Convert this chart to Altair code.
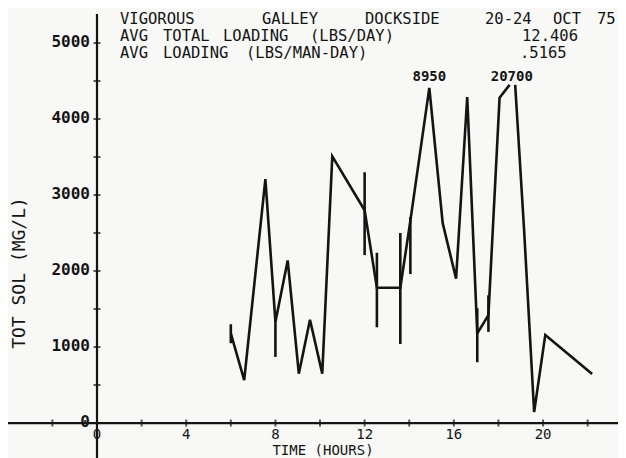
import altair as alt
import pandas as pd

# ---------------- data ----------------
# main trace, first piece (hours, mg/L)
seg1_t = [6.0, 6.6, 7.55, 8.0, 8.55, 9.05, 9.55, 10.1, 10.55, 12.0, 12.55, 13.6,
          14.05, 14.9, 15.5, 16.1, 16.6, 17.05, 17.55, 18.05, 18.5]
seg1_v = [1180, 565, 3210, 1330, 2140, 650, 1360, 650, 3510, 2800, 1780, 1780,
          2660, 4410, 2630, 1900, 4290, 1180, 1420, 4280, 4450]
# main trace, second piece
seg2_t = [18.75, 19.15, 19.6, 20.1, 22.2]
seg2_v = [4450, 2540, 145, 1160, 645]

# vertical range bars
bar_t = [6.0, 8.0, 12.0, 12.55, 13.6, 14.05, 17.05, 17.55]
bar_lo = [1050, 870, 2210, 1260, 1040, 1960, 800, 1200]
bar_hi = [1300, 1330, 3300, 2240, 2500, 2710, 1510, 1680]

# off-scale peak labels
peak_t = [14.9, 18.6]
peak_txt = ["8950", "20700"]

# axis ticks / labels
x_ticks = [-2, 2, 4, 6, 8, 10, 12, 14, 16, 18, 20, 22]
x_labels = [0, 4, 8, 12, 16, 20]
y_ticks = [500, 1000, 1500, 2000, 2500, 3000, 3500, 4000, 4500, 5000]
y_labels = [0, 1000, 2000, 3000, 4000, 5000]

header_line1 = ["VIGOROUS", "GALLEY", "DOCKSIDE", "20-24", "OCT", "75"]
header_line2 = ["AVG", "TOTAL", "LOADING", "(LBS/DAY)", "12.406"]
header_line3 = ["AVG", "LOADING", "(LBS/MAN-DAY)", ".5165"]

# ---------------- layout (pixels, not data) ----------------
W, H = 610, 450
X_DOMAIN = [-3.99, 23.36]
Y_DOMAIN = [-460, 5461]
FONT = "DejaVu Sans Mono"
INK = "#141414"
HEAD_SIZE = 15.5

line1_x = [112, 254, 357, 477, 545, 589]
line2_x = [112, 155, 215, 302, 514]
line3_x = [112, 155, 238, 512]
line_y = [11, 28, 45]

xs = alt.Scale(domain=X_DOMAIN, nice=False, zero=False)
ys = alt.Scale(domain=Y_DOMAIN, nice=False, zero=False)

line_df = pd.DataFrame({
    "t": seg1_t + seg2_t,
    "v": seg1_v + seg2_v,
    "seg": [1] * len(seg1_t) + [2] * len(seg2_t),
    "idx": list(range(len(seg1_t) + len(seg2_t))),
})
bar_df = pd.DataFrame({"t": bar_t, "lo": bar_lo, "hi": bar_hi})
peak_df = pd.DataFrame({"t": peak_t, "txt": peak_txt, "v": [Y_DOMAIN[1]] * len(peak_t)})

X = lambda f: alt.X(f, scale=xs, axis=None)
Y = lambda f: alt.Y(f, scale=ys, axis=None)

layers = []

# axes lines
xaxis = alt.Chart(pd.DataFrame({"a": [X_DOMAIN[0]], "b": [X_DOMAIN[1]], "y": [0]})).mark_rule(
    color=INK, strokeWidth=2.2).encode(x=X("a:Q"), x2="b:Q", y=Y("y:Q"))
yaxis = alt.Chart(pd.DataFrame({"x": [0], "a": [Y_DOMAIN[0]], "b": [Y_DOMAIN[1] - 80]})).mark_rule(
    color=INK, strokeWidth=2.2).encode(x=X("x:Q"), y=Y("a:Q"), y2="b:Q")
layers += [xaxis, yaxis]

# ticks
xt = alt.Chart(pd.DataFrame({"t": x_ticks, "y": [0] * len(x_ticks)})).mark_tick(
    orient="vertical", size=7, thickness=2, color=INK).encode(x=X("t:Q"), y=Y("y:Q"))
yt = alt.Chart(pd.DataFrame({"v": y_ticks, "x": [0] * len(y_ticks)})).mark_tick(
    orient="horizontal", size=7, thickness=2, color=INK).encode(x=X("x:Q"), y=Y("v:Q"))
layers += [xt, yt]

# tick labels
xl = alt.Chart(pd.DataFrame({"t": x_labels, "y": [0] * len(x_labels)})).mark_text(
    font=FONT, fontSize=14, color=INK, dy=12, baseline="middle", align="center"
).encode(x=X("t:Q"), y=Y("y:Q"), text=alt.Text("t:Q"))
yl = alt.Chart(pd.DataFrame({"v": y_labels, "x": [0] * len(y_labels)})).mark_text(
    font=FONT, fontSize=16, fontWeight="bold", color=INK, dx=-7, dy=-1, baseline="middle", align="right"
).encode(x=X("x:Q"), y=Y("v:Q"), text=alt.Text("v:Q"))
layers += [xl, yl]

# data trace
line = alt.Chart(line_df).mark_line(color=INK, strokeWidth=2.6).encode(
    x=X("t:Q"), y=Y("v:Q"), detail="seg:N", order="idx:Q")
bars = alt.Chart(bar_df).mark_rule(color=INK, strokeWidth=2.6).encode(
    x=X("t:Q"), y=Y("lo:Q"), y2="hi:Q")
layers += [line, bars]

# off-scale peak labels
pk = alt.Chart(peak_df).mark_text(
    font=FONT, fontSize=14, fontWeight="bold", color=INK, baseline="middle", align="center", dy=69
).encode(x=X("t:Q"), y=Y("v:Q"), text="txt:N")
layers.append(pk)

# header text
def txt(s, x, y, size=HEAD_SIZE, angle=0, align="left"):
    return alt.Chart(pd.DataFrame({"s": [s]})).mark_text(
        font=FONT, fontSize=size, color=INK, baseline="middle", align=align, angle=angle
    ).encode(x=alt.value(x), y=alt.value(y), text="s:N")

for s, x in zip(header_line1, line1_x):
    layers.append(txt(s, x, line_y[0]))
for s, x in zip(header_line2, line2_x):
    layers.append(txt(s, x, line_y[1]))
for s, x in zip(header_line3, line3_x):
    layers.append(txt(s, x, line_y[2]))

# axis titles
layers.append(txt("TOT SOL (MG/L)", 12, 265, size=18, angle=270, align="center"))
layers.append(txt("TIME (HOURS)", 315, 443, size=14, align="center"))

chart = alt.layer(*layers).properties(
    width=W, height=H, padding=0,
    autosize=alt.AutoSizeParams(type="none"),
    background="#f8f8f6",
).configure_view(stroke=None)

chart.save("out.html", embed_options={"renderer": "svg", "actions": False})
